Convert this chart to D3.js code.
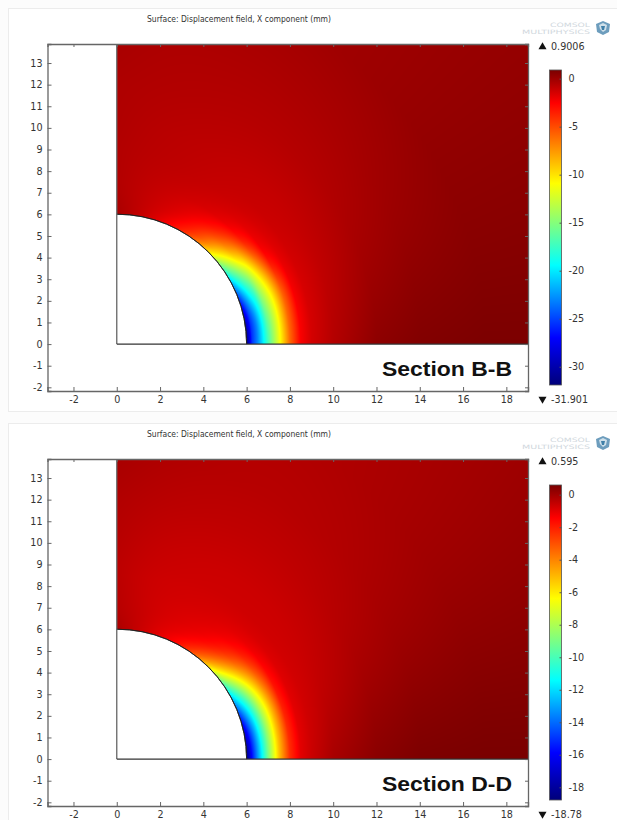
<!DOCTYPE html>
<html>
<head>
<meta charset="utf-8">
<script src="https://cdn.jsdelivr.net/npm/d3@7"></script>
<style>
	html, body { margin: 0; padding: 0; background: #fcfcfc; }
	svg { display: block; }
	text { font-family: "DejaVu Sans", sans-serif; fill: #333; }
</style>
</head>
<body>
<div id="chart"></div>
<script>
var title = "Surface: Displacement field, X component (mm)";
var xTicks = [-2,0,2,4,6,8,10,12,14,16,18];
var yTicks = [-2,-1,0,1,2,3,4,5,6,7,8,9,10,11,12,13];

var sectionNames = ["Section B-B", "Section D-D"];
var maxLabels = ["0.9006", "0.595"];
var minLabels = ["-31.901", "-18.78"];
var maxValues = [0.9006, 0.595];
var minValues = [-31.901, -18.78];
var barTicksB = [0,-5,-10,-15,-20,-25,-30];
var barTicksD = [0,-2,-4,-6,-8,-10,-12,-14,-16,-18];

// field on a polar mesh round the hole
// one row per radius, one column per angle (0 to 90 in even steps)
var radii = [6,6.25,6.5,6.75,7,7.5,8,8.5,9,10,12,14,17,24];

var fieldB = [
	[-31.9,-30,-26,-20.5,-13.5,-7,-3.5,-2,-1,-.3],
	[-25.5,-26,-23,-17.5,-11.5,-5.5,-3,-1.7,-.95,-.35],
	[-23,-23.5,-20,-15.5,-9.5,-4.8,-2.4,-1.5,-.95,-.4],
	[-20,-20,-18,-13.5,-7.5,-3.9,-2,-1.4,-.95,-.45],
	[-17,-16.5,-14.5,-11.8,-6.2,-2.9,-1.8,-1.3,-.95,-.5],
	[-11.5,-11.5,-10.5,-7,-3,-1.8,-1.4,-1.15,-.9,-.55],
	[-6,-6,-5.8,-2.4,-2,-1.45,-1.2,-1,-.85,-.55],
	[-2.4,-2.5,-2.3,-1.8,-1.5,-1.2,-1.05,-.9,-.8,-.55],
	[-1.4,-1.5,-1.5,-1.35,-1.2,-1.1,-1,-.85,-.75,-.55],
	[-.6,-.75,-.95,-1,-1.05,-1,-.9,-.8,-.7,-.5],
	[.4,.1,-.2,-.45,-.6,-.65,-.65,-.6,-.55,-.45],
	[.7,.45,.15,-.1,-.3,-.4,-.45,-.45,-.45,-.3],
	[.85,.65,.45,.3,.1,-.05,-.15,-.2,-.25,-.25],
	[.85,.65,.5,.3,.15,0,-.1,-.15,-.2,-.2]
];

var fieldD = [
	[-18.78,-17.5,-15,-11.8,-8,-4,-1.7,-1.1,-.6,-.15],
	[-15.8,-15.3,-13.3,-10.2,-6.2,-3,-1.5,-1,-.6,-.2],
	[-13.4,-13.2,-11.6,-8.8,-4.9,-2.3,-1.2,-.95,-.6,-.25],
	[-11.2,-11,-9.8,-7.4,-3.9,-1.7,-1.1,-.9,-.6,-.3],
	[-9,-8.9,-8,-6.1,-3,-1.4,-1,-.85,-.62,-.33],
	[-5.2,-5.2,-5,-3.6,-1.8,-1.1,-.9,-.8,-.65,-.36],
	[-2.3,-2.3,-2,-1.6,-1.15,-.95,-.8,-.75,-.66,-.38],
	[-1,-1.05,-1,-.95,-.85,-.8,-.75,-.72,-.66,-.4],
	[-.62,-.7,-.75,-.75,-.72,-.7,-.7,-.68,-.62,-.4],
	[-.1,-.3,-.5,-.6,-.65,-.66,-.66,-.62,-.55,-.35],
	[.35,.15,-.1,-.3,-.42,-.48,-.48,-.45,-.38,-.25],
	[.55,.35,.1,-.1,-.25,-.32,-.35,-.32,-.25,-.1],
	[.6,.45,.25,.05,-.1,-.2,-.25,-.25,-.2,-.1],
	[.6,.45,.3,.15,0,-.1,-.15,-.15,-.1,-.05]
];

var rainbowStops = [0,.105,.36,.62,.85,1];
var rainbowColors = ["#7a0000","#ff0000","#ffff00","#00ffff","#0000ff","#00007a"];

var fields = [fieldB, fieldD];
var barTicks = [barTicksB, barTicksD];

////////////////////////////////////////////////////////////
///////////////////// Scales and helpers ///////////////////
////////////////////////////////////////////////////////////

var width = 617, height = 820;
var panelOffset = 415;
var holeRadius = 6;
var xDomainEnd = 19;

var x = d3.scaleLinear().domain([-3.2,xDomainEnd]).range([47.5,528]);
var y = d3.scaleLinear().domain([-2.17,13.88]).range([391,44]);
var barY = d3.scaleLinear().range([70,385]);

var rainbow = d3.scaleLinear().domain(rainbowStops).range(rainbowColors).clamp(true);

// plain hyphen on the labels, as in the picture
function plainLabel(d) { return String(d); }

// paints the field to an offscreen canvas, comes back as a data url
function fieldImage(field, minV, maxV) {
	var x0 = Math.round(x(0)), x1 = Math.round(x(xDomainEnd));
	var y0 = Math.round(y(y.domain()[1])), y1 = Math.round(y(0));
	var canvas = document.createElement("canvas");
	canvas.width = x1 - x0;
	canvas.height = y1 - y0;
	var ctx = canvas.getContext("2d");
	var img = ctx.createImageData(canvas.width, canvas.height);
	var toT = d3.scaleLinear().domain([maxV,minV]).range([0,1]);
	// rows smoothed along the angle, straight between radii
	var rows = field.map(function(row) { return d3.interpolateBasis(row); });
	for (var j = 0; j < canvas.height; j++) {
		for (var i = 0; i < canvas.width; i++) {
			var dx = x.invert(x0 + i + .5), dy = y.invert(y0 + j + .5);
			var r = Math.sqrt(dx*dx + dy*dy);
			if (r < holeRadius) continue;
			var a = Math.max(0, Math.atan2(dy, dx)) / (Math.PI / 2);
			var n = Math.max(0, Math.min(d3.bisectRight(radii, r) - 1, radii.length - 2));
			var f = Math.min(1, (r - radii[n]) / (radii[n+1] - radii[n]));
			var v = rows[n](a) * (1 - f) + rows[n+1](a) * f;
			var c = d3.rgb(rainbow(toT(v)));
			var k = (j * canvas.width + i) * 4;
			img.data[k] = c.r; img.data[k+1] = c.g; img.data[k+2] = c.b; img.data[k+3] = 255;
		}
	}
	ctx.putImageData(img, 0, 0);
	return {url: canvas.toDataURL(), x: x0, y: y0, w: canvas.width, h: canvas.height};
}

////////////////////////////////////////////////////////////
///////////////////////// Draw /////////////////////////////
////////////////////////////////////////////////////////////

var svg = d3.select("#chart").append("svg")
	.attr("width", width)
	.attr("height", height);

var defs = svg.append("defs");

function drawPanel(idx) {
	var g = svg.append("g").attr("transform", "translate(0," + (idx * panelOffset) + ")");
	var minV = minValues[idx], maxV = maxValues[idx];

	// white card
	g.append("rect")
		.attr("x", 8.5).attr("y", 8.5)
		.attr("width", width)
		.attr("height", 403)
		.attr("fill", "#fff")
		.attr("stroke", "#ececec");

	g.append("text")
		.attr("x", 147).attr("y", 22)
		.attr("textLength", 184).attr("lengthAdjust", "spacingAndGlyphs")
		.style("font-size", "8px")
		.text(title);

	// field
	var im = fieldImage(fields[idx], minV, maxV);
	g.append("image")
		.attr("href", im.url)
		.attr("x", im.x).attr("y", im.y)
		.attr("width", im.w).attr("height", im.h);

	// hole outline and geometry edges
	g.append("path")
		.attr("transform", "translate(" + x(0) + "," + y(0) + ")")
		.attr("d", d3.arc()
			.innerRadius(x(holeRadius) - x(0))
			.outerRadius(x(holeRadius) - x(0))
			.startAngle(0)
			.endAngle(Math.PI / 2)())
		.attr("fill", "none")
		.attr("stroke", "#222")
		.attr("stroke-width", .9);

	g.append("line")
		.attr("x1", x(0)).attr("x2", x(0))
		.attr("y1", y.range()[1]).attr("y2", y(0))
		.attr("stroke", "#666").attr("stroke-width", 1.3);
	g.append("line")
		.attr("x1", x(0)).attr("x2", x(xDomainEnd))
		.attr("y1", y(0)).attr("y2", y(0))
		.attr("stroke", "#333").attr("stroke-width", 1.2);

	// axes, all four sides with the ticks pointing in
	var bottom = g.append("g").attr("transform", "translate(0," + y.range()[0] + ")")
		.call(d3.axisBottom(x).tickValues(xTicks).tickSize(-4).tickPadding(5).tickFormat(plainLabel));
	var top = g.append("g").attr("transform", "translate(0," + y.range()[1] + ")")
		.call(d3.axisTop(x).tickValues(xTicks).tickSize(-3).tickFormat(""));
	var left = g.append("g").attr("transform", "translate(" + x.range()[0] + ",0)")
		.call(d3.axisLeft(y).tickValues(yTicks).tickSize(-4).tickPadding(5).tickFormat(plainLabel));
	var right = g.append("g").attr("transform", "translate(" + x.range()[1] + ",0)")
		.call(d3.axisRight(y).tickValues(yTicks).tickSize(-3).tickFormat(""));
	[bottom, top, left, right].forEach(function(a) {
		a.attr("font-family", null).attr("font-size", null);
		a.selectAll("text").style("font-size", "9.6px").attr("fill", null);
		a.selectAll("path").attr("stroke", "#666").attr("stroke-width", 1.3);
		a.selectAll("line").attr("stroke", "#666");
	});

	g.append("text")
		.attr("x", 382).attr("y", 376)
		.attr("textLength", 130).attr("lengthAdjust", "spacingAndGlyphs")
		.style("font-family", '"Liberation Sans", Arial, sans-serif')
		.style("font-weight", "bold")
		.style("font-size", "21px")
		.style("fill", "#111")
		.text(sectionNames[idx]);

	// colour bar
	var gradId = "bar-grad-" + idx;
	var grad = defs.append("linearGradient")
		.attr("id", gradId)
		.attr("x1", 0).attr("x2", 0).attr("y1", 0).attr("y2", 1);
	grad.selectAll("stop").data(rainbowStops).enter().append("stop")
		.attr("offset", function(d) { return d; })
		.attr("stop-color", function(d, i) { return rainbowColors[i]; });

	var barScale = barY.copy().domain([maxV, minV]);
	g.append("rect")
		.attr("x", 549.5).attr("y", barY.range()[0])
		.attr("width", 12).attr("height", barY.range()[1] - barY.range()[0])
		.attr("fill", "url(#" + gradId + ")")
		.attr("stroke", "#555").attr("stroke-width", .8);

	var barAxis = g.append("g").attr("transform", "translate(561.5,0)")
		.call(d3.axisRight(barScale).tickValues(barTicks[idx]).tickSize(-2).tickPadding(7).tickFormat(plainLabel));
	barAxis.attr("font-family", null).attr("font-size", null);
	barAxis.select("path").remove();
	barAxis.selectAll("line").attr("stroke", "#555");
	barAxis.selectAll("text").style("font-size", "9.6px").attr("fill", null);

	// max and min markers
	g.append("path")
		.attr("d", d3.symbol().type(d3.symbolTriangle).size(28)())
		.attr("transform", "translate(542.5,47)")
		.attr("fill", "#111");
	g.append("text").attr("x", 551).attr("y", 50).style("font-size", "9.6px").text(maxLabels[idx]);
	g.append("path")
		.attr("d", d3.symbol().type(d3.symbolTriangle).size(28)())
		.attr("transform", "translate(542.5,399) rotate(180)")
		.attr("fill", "#111");
	g.append("text").attr("x", 551).attr("y", 403).style("font-size", "9.6px").text(minLabels[idx]);

	// logo
	g.append("text")
		.attr("x", 550).attr("y", 26.5)
		.attr("textLength", 40).attr("lengthAdjust", "spacingAndGlyphs")
		.style("font-size", "6px").style("fill", "#d0d7dd")
		.text("COMSOL");
	g.append("text")
		.attr("x", 522).attr("y", 33.5)
		.attr("textLength", 68).attr("lengthAdjust", "spacingAndGlyphs")
		.style("font-size", "6px").style("fill", "#d0d7dd")
		.text("MULTIPHYSICS");
	g.append("path")
		.attr("d", "M596 24L603 21L610 24L609 32L603 35L597 32Z")
		.attr("fill", "#6d9dbd");
	g.append("path")
		.attr("d", "M599 25L603 23L607 25L606 30L603 32L600 29Z")
		.attr("fill", "#cfe0ea");
	g.append("path")
		.attr("d", "M601 26L605 26L604 30L602 30Z")
		.attr("fill", "#3f7fa8");
}

sectionNames.forEach(function(d, i) { drawPanel(i); });
</script>
</body>
</html>
